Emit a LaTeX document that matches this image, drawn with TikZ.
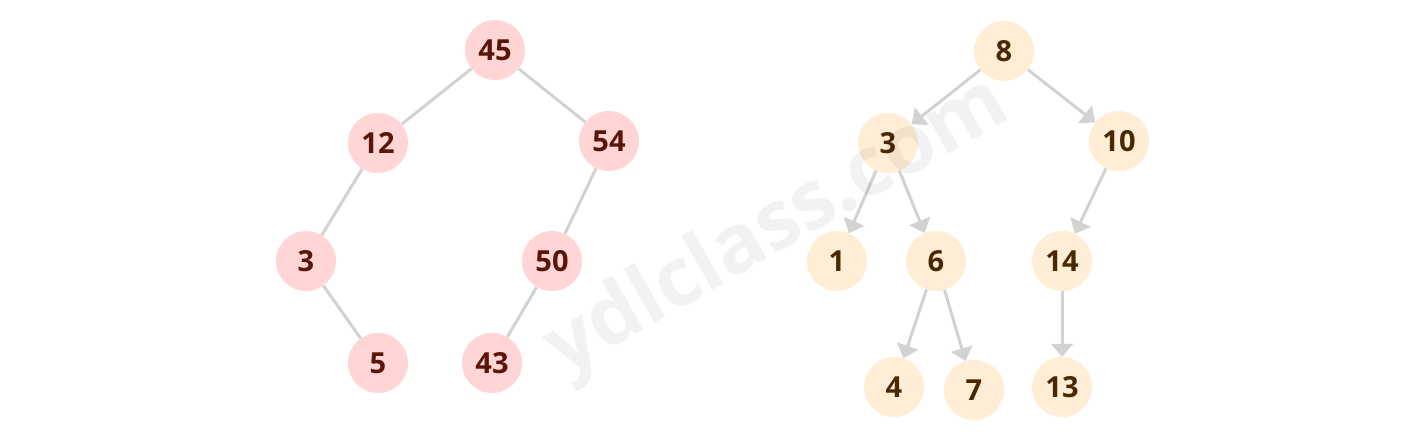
\documentclass[tikz,border=0pt]{standalone}
\usepackage{fontspec}
\setmainfont{Open Sans}
\usetikzlibrary{arrows.meta}
\definecolor{pinkfill}{HTML}{FFD5D5}
\definecolor{pinktext}{HTML}{5A1508}
\definecolor{peachfill}{HTML}{FFEDD5}
\definecolor{peachtext}{HTML}{4A2800}
\definecolor{edgegray}{HTML}{D2D2D2}
\tikzset{
  pnode/.style={circle, minimum size=60pt, inner sep=0pt, fill=pinkfill, text=pinktext, font=\fontsize{29}{30}\selectfont\bfseries},
  onode/.style={circle, minimum size=60pt, inner sep=0pt, fill=peachfill, text=peachtext, font=\fontsize{29}{30}\selectfont\bfseries},
  link/.style={draw=edgegray, line width=3pt},
  arr/.style={draw=edgegray, line width=3pt, -{Triangle[length=13pt,width=22pt]}},
  wmark/.style={font=\fontsize{82}{82}\selectfont\bfseries, text=black, text opacity=0.05, rotate=30}
}
\begin{document}
\begin{tikzpicture}[x=1pt,y=-1pt]
\useasboundingbox (0,0) rectangle (1425,438);
% left tree
\node[pnode] (l45) at (495,50) {45};
\node[pnode] (l12) at (378,143) {12};
\node[pnode] (l54) at (609,141) {54};
\node[pnode] (l3) at (306,261) {3};
\node[pnode] (l50) at (552,261) {50};
\node[pnode] (l5) at (378,363) {5};
\node[pnode] (l43) at (492,363) {43};
\draw[link] (l45) -- (l12);
\draw[link] (l45) -- (l54);
\draw[link] (l12) -- (l3);
\draw[link] (l3) -- (l5);
\draw[link] (l54) -- (l50);
\draw[link] (l50) -- (l43);
% right tree
\node[onode] (r8) at (1004,51) {8};
\node[onode] (r3) at (888,143) {3};
\node[onode] (r10) at (1119,141) {10};
\node[onode] (r1) at (837,261) {1};
\node[onode] (r6) at (936,261) {6};
\node[onode] (r14) at (1062,261) {14};
\node[onode] (r4) at (894,387) {4};
\node[onode] (r7) at (974,390) {7};
\node[onode] (r13) at (1062,387) {13};
\draw[arr] (r8) -- (r3);
\draw[arr] (r8) -- (r10);
\draw[arr] (r3) -- (r1);
\draw[arr] (r3) -- (r6);
\draw[arr] (r10) -- (r14);
\draw[arr] (r6) -- (r4);
\draw[arr] (r6) -- (r7);
\draw[arr] (r14) -- (r13);
% watermark
\node[wmark] (wm) at (778,228) {ydlclass.com};
\end{tikzpicture}
\end{document}
